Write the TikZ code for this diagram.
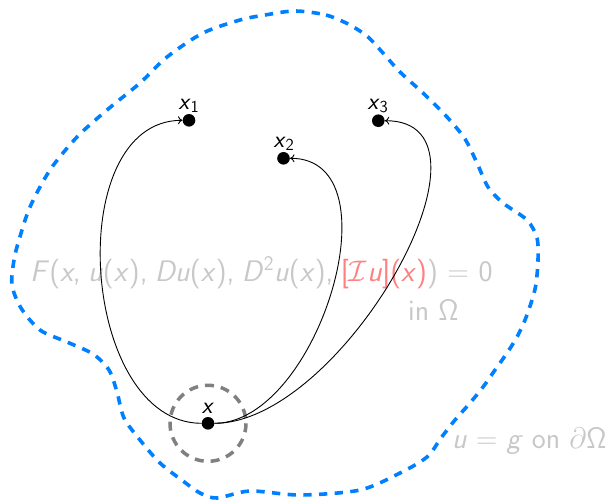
\RequirePackage{fix-cm}
\documentclass[tikz,border=0pt]{standalone}
\usetikzlibrary{arrows.meta}
\definecolor{bblue}{RGB}{0,128,255}
\definecolor{ballgray}{RGB}{128,128,128}
\definecolor{txtgray}{RGB}{200,200,200}
\definecolor{hlred}{RGB}{255,128,128}
\newcommand{\vi}[1]{\textit{#1}}
\begin{document}
\begin{tikzpicture}[x=1pt,y=-1pt,
  dot/.style={circle,fill=black,inner sep=0pt,minimum size=12.6pt},
  lbl/.style={font=\sffamily\fontsize{24}{28}\selectfont,inner sep=0pt,anchor=base},
  bigtxt/.style={font=\sffamily\fontsize{29.7}{34}\selectfont,text=txtgray,inner sep=0pt,anchor=base west},
  boundary/.style={draw=bblue,line width=3.6pt,dash pattern=on 8.3pt off 7.4pt},
  ballstyle/.style={draw=ballgray,line width=3.5pt,dash pattern=on 9pt off 7pt},
  conn/.style={line width=0.9pt,-{To[length=4.5pt,width=8pt]}}]
\useasboundingbox (0,0) rectangle (613,501);
% boundary of Omega
\draw[boundary] plot[smooth cycle] coordinates {
 (295,11) (326,15) (350,25) (368,37) (383,53) (400,72) (423,93) (447,117)
 (465,139) (477,163) (488,187) (503,203) (527,220) (537,238) (538,260)
 (536,284) (532,300) (525,320) (517,337) (507,353) (495,370) (483,387)
 (470,403) (455,420) (441,438) (427,457) (400,473) (360,490) (300,495)
 (250,491) (217,498) (200,493) (183,481) (160,463) (140,440) (124,418)
 (117,392) (109,370) (93,354) (67,342) (40,330) (21,308) (12,285) (14,260)
 (19,240) (30,207) (50,170) (77,137) (107,110) (140,83) (167,57) (203,33)
 (240,20) (265,15)};
% ball around x
\draw[ballstyle] (208,423.3) circle[radius=38];
% texts
\node[bigtxt] (eq) at (30,281) {\vi{F}(\vi{x},\hspace{0.25em}\vi{u}(\vi{x}),\hspace{0.25em}\vi{Du}(\vi{x}),\hspace{0.25em}\vi{D}$^{\mathsf{2}}$\vi{u}(\vi{x}),\hspace{0.25em}\textcolor{hlred}{[$\mathcal{I}$\vi{u}](\vi{x})})\hspace{0.32em}=\hspace{0.32em}0};
\node[bigtxt] (inO) at (408,320) {in $\mathsf{\Omega}$};
\node[bigtxt] (bc) at (452,448) {\vi{u}\hspace{0.3em}=\hspace{0.3em}\vi{g} on $\partial\mathsf{\Omega}$};
% points
\node[dot] (x) at (208,423.3) {};
\node[dot] (x1) at (189,120.3) {};
\node[dot] (x2) at (283.5,158.3) {};
\node[dot] (x3) at (378.3,120.7) {};
\node[lbl] (lx) at (208,413) {\vi{x}};
\node[lbl] (lx1) at (189,109) {\vi{x}$_{\mathsf{1}}$};
\node[lbl] (lx2) at (284,147) {\vi{x}$_{\mathsf{2}}$};
\node[lbl] (lx3) at (378,109) {\vi{x}$_{\mathsf{3}}$};
% connectors
\draw[conn] (x) .. controls +(-128,0) and +(-128,0) .. (x1);
\draw[conn] (x) .. controls +(110,0) and +(115,0) .. (x2);
\draw[conn] (x) .. controls +(135,0) and +(135,0) .. (x3);
\end{tikzpicture}
\end{document}
